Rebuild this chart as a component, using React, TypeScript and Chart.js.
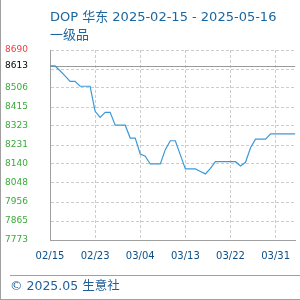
import React, { useEffect, useRef } from "react";
import { Chart, registerables } from "chart.js";

Chart.register(...registerables);

const titleLine1 = "DOP 华东 2025-02-15 - 2025-05-16";
const titleLine2 = "一级品";
const footerText = "© 2025.05 生意社";

const values = [
  8613, 8613, 8590, 8565, 8539, 8539, 8515, 8515, 8515, 8394,
  8365, 8389, 8389, 8327, 8327, 8327, 8265, 8265, 8188, 8177,
  8140, 8140, 8140, 8209, 8252, 8252, 8184, 8116, 8116, 8116,
  8104, 8092, 8119, 8151, 8151, 8151, 8151, 8151, 8130, 8148,
  8218, 8260, 8260, 8260, 8285, 8285, 8285, 8285, 8285, 8285,
];

const xTickIndex = [0, 9, 18, 27, 36, 45];
const xTickLabels = ["02/15", "02/23", "03/04", "03/13", "03/22", "03/31"];

const yTickValues = [7773, 7864.7, 7956.4, 8048.1, 8139.8, 8231.5, 8323.2, 8414.9, 8506.6, 8598.3, 8690];
const yTickLabels = ["7773", "7865", "7956", "8048", "8140", "8231", "8323", "8415", "8506", "", "8690"];
const refValue = 8613;
const refLabel = "8613";
const yMin = 7773;
const yMax = 8690;
const xMax = 48.9;

export default function App() {
  const ref = useRef<HTMLCanvasElement | null>(null);

  useEffect(() => {
    if (!ref.current) return;
    const points = values.map((v, i) => ({ x: i, y: v }));
    const decor = {
      id: "decor",
      beforeDatasetsDraw(chart: any) {
        const { ctx, chartArea, scales } = chart;
        const y = Math.round(scales.y.getPixelForValue(refValue)) + 0.5;
        ctx.save();
        ctx.strokeStyle = "#999999";
        ctx.lineWidth = 1;
        ctx.beginPath();
        ctx.moveTo(chartArea.left, y);
        ctx.lineTo(chartArea.right, y);
        ctx.stroke();
        ctx.restore();
      },
      afterDraw(chart: any) {
        const { ctx } = chart;
        ctx.save();
        ctx.fillStyle = "#1a66a0";
        ctx.font = "13px 'DejaVu Sans', 'Noto Sans CJK SC'";
        ctx.textBaseline = "alphabetic";
        ctx.textAlign = "left";
        ctx.fillText(titleLine1, 50, 20.5);
        ctx.fillText(titleLine2, 50, 39);
        ctx.fillStyle = "#1f5f9a";
        ctx.font = "12.5px 'DejaVu Sans', 'Noto Sans CJK SC'";
        ctx.fillText(footerText, 10, 290);
        ctx.strokeStyle = "#a0a0a0";
        ctx.lineWidth = 1;
        ctx.beginPath();
        ctx.moveTo(0.5, 0);
        ctx.lineTo(0.5, 300);
        ctx.moveTo(0, 299.5);
        ctx.lineTo(300, 299.5);
        ctx.moveTo(10, 275.5);
        ctx.lineTo(300, 275.5);
        ctx.stroke();
        ctx.restore();
      },
    };
    const chart = new Chart(ref.current, {
      type: "line",
      data: {
        datasets: [
          {
            data: points,
            borderColor: "#3a9ad9",
            borderWidth: 1.2,
            pointRadius: 0,
            tension: 0,
            fill: false,
          },
        ],
      },
      options: {
        animation: false,
        responsive: false,
        layout: { padding: { left: 0, top: 50, right: 0, bottom: 25 } },
        plugins: { legend: { display: false }, tooltip: { enabled: false }, title: { display: false } },
        scales: {
          x: {
            type: "linear",
            min: 0,
            max: xMax,
            afterBuildTicks: (scale: any) => {
              scale.ticks = xTickIndex.map((v) => ({ value: v }));
            },
            afterFit: (scale: any) => {
              scale.height = 35;
            },
            ticks: {
              autoSkip: false,
              maxRotation: 0,
              padding: 10,
              color: "#0a4f8a",
              font: { family: "'DejaVu Sans'", size: 10 },
              callback: (v: any) => {
                const i = xTickIndex.indexOf(Number(v));
                return i >= 0 ? xTickLabels[i] : "";
              },
            },
            grid: { color: "#cccccc", lineWidth: 1, drawTicks: false },
            border: { display: true, color: "#a0a0a0", width: 1, dash: [3, 2] },
          },
          y: {
            type: "linear",
            min: yMin,
            max: yMax,
            afterBuildTicks: (scale: any) => {
              const t = yTickValues.map((v) => ({ value: v }));
              t.push({ value: refValue });
              scale.ticks = t;
            },
            afterFit: (scale: any) => {
              scale.width = 50;
            },
            ticks: {
              autoSkip: false,
              padding: 22,
              font: { family: "'DejaVu Sans'", size: 9 },
              color: (c: any) => {
                const v = c.tick.value;
                if (v === refValue) return "#000000";
                if (v === yMax) return "#ee3d3d";
                return "#3aaa3a";
              },
              callback: (v: any) => {
                if (Number(v) === refValue) return refLabel;
                const i = yTickValues.indexOf(Number(v));
                return i >= 0 ? yTickLabels[i] : "";
              },
            },
            grid: {
              color: (c: any) => (c.tick && c.tick.value === refValue ? "rgba(0,0,0,0)" : "#cccccc"),
              lineWidth: 1,
              drawTicks: false,
            },
            border: { display: true, color: "#a0a0a0", width: 1, dash: [3, 2] },
          },
        },
      },
      plugins: [decor],
    });
    return () => chart.destroy();
  }, []);

  return (
    <div style={{ position: "fixed", left: 0, top: 0, width: 300, height: 300, background: "#fff" }}>
      <canvas ref={ref} width={300} height={300} style={{ display: "block" }} />
    </div>
  );
}
